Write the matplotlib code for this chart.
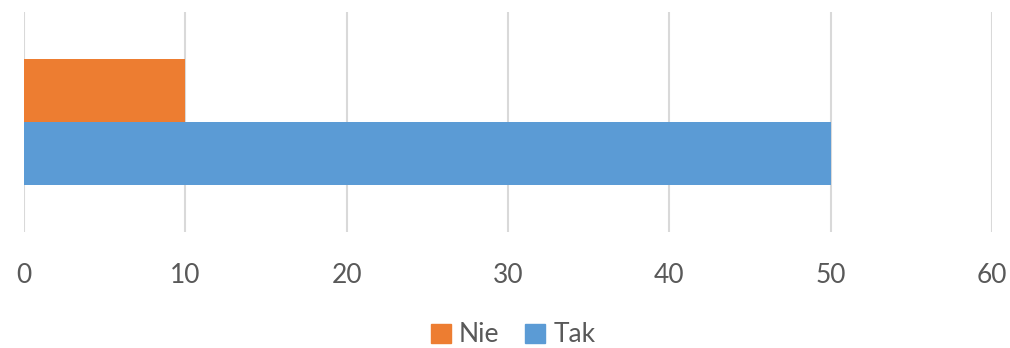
import numpy as np
import matplotlib.pyplot as plt
from matplotlib.patches import Patch

categories = ['']
series_names = ['Tak', 'Nie']
tak_values = [50]
nie_values = [10]
colors = {'Tak': '#5B9BD5', 'Nie': '#ED7D31'}
x_ticks = [0, 10, 20, 30, 40, 50, 60]

plt.rcParams['font.family'] = ['Lato', 'DejaVu Sans']

fig = plt.figure(figsize=(10.10, 3.48), dpi=100)
ax = fig.add_axes([24 / 1010, 1 - 232 / 348, 968 / 1010, 220 / 348])

y = np.arange(len(categories))
h = 0.287
ax.barh(y - h / 2, tak_values, height=h, color=colors['Tak'], zorder=3)
ax.barh(y + h / 2, nie_values, height=h, color=colors['Nie'], zorder=3)

ax.set_xlim(0, 60)
ax.set_ylim(-0.5, 0.5)
ax.set_xticks(x_ticks)
ax.set_yticks([])
ax.xaxis.grid(True, color='#d9d9d9', linewidth=1.5, zorder=0)
for s in ax.spines.values():
    s.set_visible(False)
ax.tick_params(axis='x', length=0, pad=22, labelsize=19, labelcolor='#595959')
ax.set_clip_on(False)

handles = [Patch(color=colors['Nie'], label='Nie'), Patch(color=colors['Tak'], label='Tak')]
fig.legend(handles=handles, loc='center', bbox_to_anchor=(0.508, 1 - 335 / 348), ncol=2,
           frameon=False, fontsize=19, labelcolor='#595959', handlelength=0.75,
           handleheight=0.75, handletextpad=0.3, columnspacing=1.0)

fig.savefig('out.png', dpi=100)
